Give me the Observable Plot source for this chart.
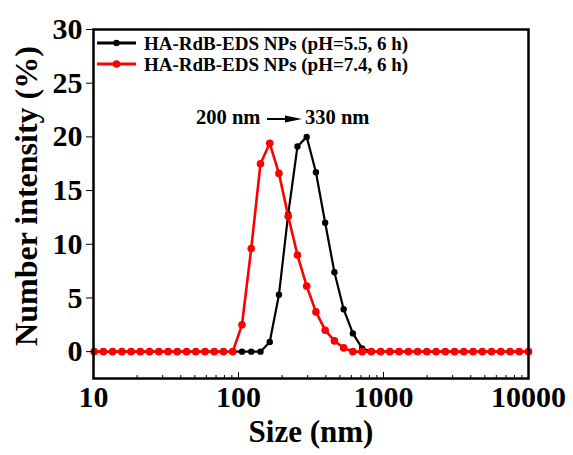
<!DOCTYPE html>
<html>
<head>
<meta charset="utf-8">
<script src="https://cdn.jsdelivr.net/npm/d3@7"></script>
<script src="https://cdn.jsdelivr.net/npm/@observablehq/plot@0.6"></script>
<style>
  html, body { margin: 0; padding: 0; background: #fff; }
  svg text { font-family: "Liberation Serif", "Times New Roman", serif; font-weight: bold; }
</style>
</head>
<body>
<script>
// DLS size bins (nm)
const sizes = [10.10, 11.70, 13.54, 15.69, 18.17, 21.04, 24.36, 28.21, 32.67, 37.84,
  43.82, 50.75, 58.77, 68.06, 78.82, 91.28, 105.7, 122.4, 141.8, 164.2,
  190.1, 220.2, 255.0, 295.3, 342.0, 396.1, 458.7, 531.2, 615.1, 712.4,
  825.0, 955.4, 1106, 1281, 1484, 1718, 1990, 2305, 2669, 3091,
  3580, 4145, 4801, 5560, 6439, 7456, 8635, 10000];

// Number intensity (%) — pH 5.5, 6 h (black)
const ph55 = [0, 0, 0, 0, 0, 0, 0, 0, 0, 0,
  0, 0, 0, 0, 0, 0, 0, 0, 0, 0.9,
  5.3, 12.8, 19.1, 20.0, 16.7, 12.0, 7.4, 3.95, 1.7, 0.3,
  0, 0, 0, 0, 0, 0, 0, 0, 0, 0,
  0, 0, 0, 0, 0, 0, 0, 0];

// Number intensity (%) — pH 7.4, 6 h (red)
const ph74 = [0, 0, 0, 0, 0, 0, 0, 0, 0, 0,
  0, 0, 0, 0, 0, 0, 2.5, 9.6, 17.5, 19.4,
  16.6, 12.6, 9.0, 6.1, 3.7, 2.0, 1.0, 0.35, 0, 0,
  0, 0, 0, 0, 0, 0, 0, 0, 0, 0,
  0, 0, 0, 0, 0, 0, 0, 0];

const seriesNames = ["HA-RdB-EDS NPs (pH=5.5, 6 h)", "HA-RdB-EDS NPs (pH=7.4, 6 h)"];
const seriesColors = ["#000000", "#ff0000"];
const yTicks = [0, 5, 10, 15, 20, 25, 30];
const xTicks = [10, 100, 1000, 10000];
const xMinorTicks = [20, 30, 40, 50, 60, 70, 80, 90, 200, 300, 400, 500, 600, 700, 800, 900,
  2000, 3000, 4000, 5000, 6000, 7000, 8000, 9000];
const xLabel = "Size (nm)";
const yLabel = "Number intensity (%)";
const annotLeft = "200 nm";
const annotRight = "330 nm";

const black = sizes.map((s, i) => ({size: s, value: ph55[i], series: seriesNames[0]}));
const red = sizes.map((s, i) => ({size: s, value: ph74[i], series: seriesNames[1]}));

const svg = Plot.plot({
  width: 573,
  height: 455,
  marginLeft: 93,
  marginRight: 45,
  marginTop: 29,
  marginBottom: 77,
  style: {fontFamily: "Liberation Serif", fontWeight: "bold", color: "#000", background: "#fff"},
  x: {type: "log", domain: [10, 10000]},
  y: {domain: [-2.5, 30]},
  marks: [
    Plot.line(black, {x: "size", y: "value", stroke: seriesColors[0], strokeWidth: 2.2}),
    Plot.dot(black, {x: "size", y: "value", r: 3.2, fill: seriesColors[0], stroke: "none"}),
    Plot.line(red, {x: "size", y: "value", stroke: seriesColors[1], strokeWidth: 2.6}),
    Plot.dot(red, {x: "size", y: "value", r: 3.8, fill: seriesColors[1], stroke: "none"}),
    Plot.frame({stroke: "#000", strokeWidth: 2.5}),
    Plot.axisY({ticks: yTicks, tickSize: 7, tickPadding: 4, tickWidth: 2, fontSize: 30, label: null, tickFormat: d => String(d)}),
    Plot.axisX({ticks: xTicks, tickSize: 0, tickPadding: 7, fontSize: 30, label: null, tickFormat: d => String(d)}),
    Plot.axisX({ticks: xTicks, tickSize: -6, tickWidth: 2, label: null, tickFormat: () => ""}),
    Plot.axisX({ticks: xMinorTicks, tickSize: -3, tickWidth: 2, label: null, tickFormat: () => ""}),
    Plot.text([xLabel], {frameAnchor: "bottom", textAnchor: "middle", lineAnchor: "middle", dy: 54, fontSize: 31, fontWeight: "bold", fill: "#000"}),
    Plot.text([yLabel], {frameAnchor: "left", textAnchor: "middle", lineAnchor: "middle", dx: -67, dy: -8, rotate: -90, fontSize: 32, fontWeight: "bold", fill: "#000"})
  ]
});
document.body.appendChild(svg);

// Legend inside plot (top-left)
const g = d3.select(svg).append("g")
  .attr("font-family", "Liberation Serif")
  .attr("font-weight", "bold")
  .attr("font-size", 19)
  .attr("text-anchor", "start");
const legendRows = [43, 64];
seriesNames.forEach((name, i) => {
  const y = legendRows[i];
  g.append("line").attr("x1", 97).attr("x2", 136).attr("y1", y).attr("y2", y)
    .attr("stroke", seriesColors[i]).attr("stroke-width", 2.8);
  g.append("circle").attr("cx", 116.5).attr("cy", y).attr("r", i === 0 ? 3.2 : 3.8).attr("fill", seriesColors[i]);
  g.append("text").attr("x", 144).attr("y", y + 6.5).attr("fill", "#000").text(name);
});

// Annotation 200 nm -> 330 nm
const a = d3.select(svg).append("g")
  .attr("font-family", "Liberation Serif")
  .attr("font-weight", "bold")
  .attr("font-size", 20.5)
  .attr("text-anchor", "start");
a.append("text").attr("x", 196).attr("y", 124).attr("fill", "#000").text(annotLeft);
a.append("text").attr("x", 305).attr("y", 124).attr("fill", "#000").text(annotRight);
a.append("line").attr("x1", 267).attr("x2", 288).attr("y1", 119).attr("y2", 119)
  .attr("stroke", "#000").attr("stroke-width", 2);
a.append("path").attr("d", "M285,115.5L302,119L285,122.5Z").attr("fill", "#000");
</script>
</body>
</html>
